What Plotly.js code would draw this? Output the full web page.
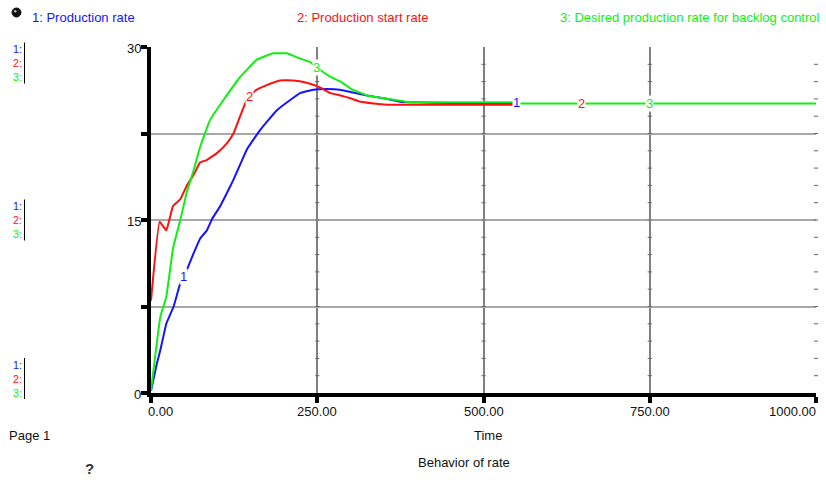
<!DOCTYPE html>
<html>
<head>
<meta charset="utf-8">
<script src="https://cdn.plot.ly/plotly-3.0.1.min.js"></script>
<style>
html,body{margin:0;padding:0;background:#fff;}
#chart{width:826px;height:480px;}
</style>
</head>
<body>
<div id="chart"></div>
<script>
// ---- data ----
var seriesNames = ["1: Production rate", "2: Production start rate", "3: Desired production rate for backlog control"];
var seriesColors = ["#1414ff", "#ff1010", "#10f010"];

var timeProd = [0, 9, 14, 23, 34, 44, 52, 64, 74, 84, 92, 104, 119, 124, 137, 144, 164, 189, 214, 224, 244, 264, 284, 300, 325, 350, 375, 400, 450, 545];
var prodRate = [0.2, 2.6, 3.7, 6.0, 7.5, 9.5, 10.4, 12.1, 13.4, 14.1, 15.1, 16.2, 17.9, 18.5, 20.2, 21.1, 22.8, 24.5, 25.6, 26.0, 26.3, 26.35, 26.3, 26.1, 25.8, 25.55, 25.26, 25.2, 25.15, 25.15];

var timeStart = [0, 13, 23, 33, 44, 54, 64, 74, 84, 99, 114, 124, 134, 144, 152, 159, 174, 194, 214, 234, 254, 270, 285, 300, 312, 335, 355, 545];
var startRate = [8.0, 14.85, 14.1, 16.2, 16.8, 18.0, 18.9, 20.0, 20.2, 20.8, 21.65, 22.5, 24.0, 25.4, 25.95, 26.3, 26.7, 27.1, 27.1, 26.9, 26.5, 26.0, 25.8, 25.55, 25.3, 25.1, 25.0, 25.0];

var timeDesired = [0, 14, 23, 33, 44, 54, 64, 74, 89, 109, 134, 159, 184, 204, 224, 239, 250, 270, 285, 300, 325, 350, 375, 385, 545, 555, 1000];
var desiredRate = [0.2, 6.6, 8.35, 12.5, 15.0, 17.45, 19.3, 21.35, 23.7, 25.4, 27.4, 28.9, 29.45, 29.45, 29.0, 28.7, 28.2, 27.4, 27.0, 26.4, 25.8, 25.55, 25.35, 25.23, 25.2, 25.1, 25.1];

var xTickVals = [0, 250, 500, 750, 1000];
var xTickText = ["0.00", "250.00", "500.00", "750.00", "1000.00"];
var yTickVals = [0, 7.5, 15, 22.5, 30];
var yTickText = ["0", "", "15", "", "30"];
var labelTimes = [[49, 549], [148, 648], [249, 749]];
var xTitle = "Time";
var chartTitle = "Behavior of rate";
var pageText = "Page 1";

// ---- layout geometry ----
var L = 151, R = 10, T = 47, B = 87, W = 826, H = 480;
var PW = W - L - R, PH = H - T - B;
function px(x){ return (x - L) / PW; }
function py(y){ return (H - B - y) / PH; }
function interp(ts, vs, t){
  if (t <= ts[0]) return vs[0];
  for (var i = 1; i < ts.length; i++){
    if (t <= ts[i]){ var f = (t - ts[i-1])/(ts[i]-ts[i-1]); return vs[i-1] + f*(vs[i]-vs[i-1]); }
  }
  return vs[vs.length-1];
}

var font = "Liberation Sans, Arial, sans-serif";
var FS = 13;
var times = [timeProd, timeStart, timeDesired];
var vals = [prodRate, startRate, desiredRate];

var traces = [];
// small crossbars on vertical grid lines
var cbx = [], cby = [];
for (var g = 1; g < xTickVals.length; g++){
  for (var k = 1; k < 20; k++){ cbx.push(xTickVals[g]); cby.push(k*1.5); }
}
traces.push({x: cbx, y: cby, mode: "markers", type: "scatter", hoverinfo: "skip",
  marker: {symbol: "line-ew", size: 3, line: {color: "#666", width: 1}}, showlegend: false, cliponaxis: false});

for (var s = 0; s < 3; s++){
  traces.push({x: times[s], y: vals[s], type: "scatter", mode: "lines", name: seriesNames[s],
    line: {color: seriesColors[s], width: 2, shape: "spline", smoothing: 0.3}, showlegend: false});
}

var ann = [];
// curve number labels
for (var s2 = 0; s2 < 3; s2++){
  for (var j = 0; j < labelTimes[s2].length; j++){
    var tt = labelTimes[s2][j];
    var yy = tt > 545 ? interp(timeDesired, desiredRate, tt) : interp(times[s2], vals[s2], tt);
    ann.push({x: tt, y: yy, xref: "x", yref: "y", text: String(s2+1), showarrow: false,
      font: {family: font, size: FS, color: seriesColors[s2]}, bgcolor: "#ffffff", borderpad: 0,
      xanchor: "center", yanchor: "middle"});
  }
}
// x tick labels
for (var i = 0; i < xTickVals.length; i++){
  var a = {x: xTickVals[i], xref: "x", y: py(411), yref: "paper", text: xTickText[i], showarrow: false,
    font: {family: font, size: FS, color: "#111"}, xanchor: "center", yanchor: "middle"};
  if (i === 0){ a.xanchor = "left"; a.xshift = -5; }
  if (i === xTickVals.length - 1){ a.xanchor = "right"; a.xshift = 2; }
  ann.push(a);
}
// y tick labels
for (var i2 = 0; i2 < yTickVals.length; i2++){
  if (!yTickText[i2]) continue;
  ann.push({x: px(143), xref: "paper", y: yTickVals[i2], yref: "y", text: yTickText[i2], showarrow: false,
    font: {family: font, size: FS, color: "#111"}, xanchor: "right", yanchor: "middle", yshift: -1});
}
// series titles
var titleX = [30, 295, 822];
var titleAnchor = ["left", "left", "right"];
for (var s3 = 0; s3 < 3; s3++){
  ann.push({x: px(titleX[s3]), xref: "paper", y: py(17), yref: "paper", text: seriesNames[s3], showarrow: false,
    font: {family: font, size: FS, color: seriesColors[s3]}, xanchor: titleAnchor[s3], yanchor: "middle"});
}
// left scale markers (one stacked text per group)
var groups = [49.5, 206.5, 365];
var shapes = [];
var stackText = [0, 1, 2].map(function(n){
  return "<span style='color:" + seriesColors[n] + "'>" + (n+1) + ":</span>";
}).join("<br>");
for (var gI = 0; gI < groups.length; gI++){
  ann.push({x: px(22.5), xref: "paper", y: py(groups[gI] + 13.7), yref: "paper", text: stackText, showarrow: false,
    font: {family: font, size: 10.6, color: "#000"}, xanchor: "right", yanchor: "middle", align: "right", borderpad: 0});
  shapes.push({type: "line", xref: "paper", yref: "paper", x0: px(24.5), x1: px(24.5),
    y0: py(groups[gI] - 7), y1: py(groups[gI] + 34), line: {color: "#000", width: 1}});
}
ann.push({x: px(7), xref: "paper", y: py(435), yref: "paper", text: pageText, showarrow: false,
  font: {family: font, size: FS, color: "#111"}, xanchor: "left", yanchor: "middle"});
ann.push({x: px(488), xref: "paper", y: py(435), yref: "paper", text: xTitle, showarrow: false,
  font: {family: font, size: FS, color: "#111"}, xanchor: "center", yanchor: "middle"});
ann.push({x: px(464), xref: "paper", y: py(462), yref: "paper", text: chartTitle, showarrow: false,
  font: {family: font, size: FS, color: "#111"}, xanchor: "center", yanchor: "middle"});
ann.push({x: px(89), xref: "paper", y: py(468), yref: "paper", text: "<b>?</b>", showarrow: false,
  font: {family: font, size: 15, color: "#333"}, xanchor: "center", yanchor: "middle"});

// bulb icon
shapes.push({type: "circle", xref: "paper", yref: "paper", x0: px(12), x1: px(21), y0: py(8), y1: py(17),
  fillcolor: "#111", line: {color: "#111", width: 1}});
shapes.push({type: "circle", xref: "paper", yref: "paper", x0: px(14), x1: px(16.5), y0: py(10), y1: py(12.5),
  fillcolor: "#bbb", line: {width: 0}});

var layout = {
  width: W, height: H,
  margin: {l: L, r: R, t: T, b: B, pad: 0},
  paper_bgcolor: "#fff", plot_bgcolor: "#fff",
  showlegend: false,
  xaxis: {range: [0, 1000], tickvals: xTickVals, ticktext: xTickVals.map(function(){return "";}),
    showline: true, linecolor: "#000", linewidth: 4, ticks: "outside", ticklen: 6, tickwidth: 4, tickcolor: "#000",
    showgrid: true, gridcolor: "#808080", gridwidth: 2, zeroline: false, fixedrange: true},
  yaxis: {range: [0, 30], tickvals: yTickVals, ticktext: yTickVals.map(function(){return "";}),
    showline: true, linecolor: "#000", linewidth: 4, ticks: "outside", ticklen: 6, tickwidth: 4, tickcolor: "#000",
    showgrid: true, gridcolor: "#a8a8a8", gridwidth: 2, zeroline: false, fixedrange: true},
  annotations: ann,
  shapes: shapes
};

Plotly.newPlot("chart", traces, layout, {staticPlot: true, displayModeBar: false});
</script>
</body>
</html>
